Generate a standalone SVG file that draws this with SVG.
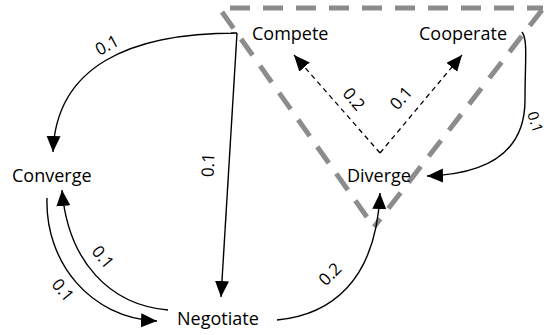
<svg xmlns="http://www.w3.org/2000/svg" width="548" height="335" viewBox="0 0 548 335">
<style>
.node{font-family:"Open Sans","Liberation Sans",sans-serif;font-size:18px;fill:#000}
.lbl{font-family:"Open Sans","Liberation Sans",sans-serif;font-size:17px;fill:#000;text-anchor:middle}
.e{fill:none;stroke:#000;stroke-width:1.4;marker-end:url(#ah)}
.d{fill:none;stroke:#000;stroke-width:1.3;stroke-dasharray:5 4;marker-end:url(#ah)}
.tri{fill:none;stroke:#8c8c8c;stroke-width:5;stroke-dasharray:20 13}
</style>
<defs>
<marker id="ah" markerUnits="userSpaceOnUse" markerWidth="18" markerHeight="16" refX="16" refY="7" orient="auto">
<path d="M0,0 L16,7 L0,14 Z" fill="#000"/>
</marker>
</defs>
<rect width="548" height="335" fill="#fff"/>
<g id="group-box">
<line class="tri" x1="230" y1="8" x2="543" y2="8"/>
<line class="tri" x1="222" y1="12" x2="374" y2="227"/>
<line class="tri" x1="542" y1="10" x2="374" y2="227"/>
</g>
<g id="connectors">
<path class="e" d="M231,33 L237,33 C130,33 56,66 53,152"/>
<path class="e" d="M237,33 L221,297"/>
<path class="d" d="M380,153 L294,55"/>
<path class="d" d="M380,153 L462,55"/>
<path class="e" d="M522,32 C528,40 525,60 525,100 C525,150 490,174 427,176"/>
<path class="e" d="M47,198 C45,262 90,318 157,321"/>
<path class="e" d="M168,310 C110,305 68,262 62,190"/>
<path class="e" d="M277,320 C330,315 376,282 380,193"/>
<g id="edge-labels">
<text class="lbl" transform="translate(107,45) rotate(-28)" y="6">0.1</text>
<text class="lbl" transform="translate(208,165) rotate(-88)" y="6">0.1</text>
<text class="lbl" transform="translate(354,99) rotate(50)" y="6">0.2</text>
<text class="lbl" transform="translate(401,98) rotate(-48)" y="6">0.1</text>
<text class="lbl" transform="translate(535,122) rotate(72)" y="5" style="font-size:15px">0.1</text>
<text class="lbl" transform="translate(63,290) rotate(50)" y="6">0.1</text>
<text class="lbl" transform="translate(103,257) rotate(50)" y="6">0.1</text>
<text class="lbl" transform="translate(330,274) rotate(-45)" y="6">0.2</text>
</g>
</g>
<g id="node-compete"><text class="node" x="252" y="40">Compete</text></g>
<g id="node-cooperate"><text class="node" x="419" y="40">Cooperate</text></g>
<g id="node-converge"><text class="node" x="12" y="182">Converge</text></g>
<g id="node-diverge"><text class="node" x="347" y="182">Diverge</text></g>
<g id="node-negotiate"><text class="node" x="177" y="325">Negotiate</text></g>
</svg>
